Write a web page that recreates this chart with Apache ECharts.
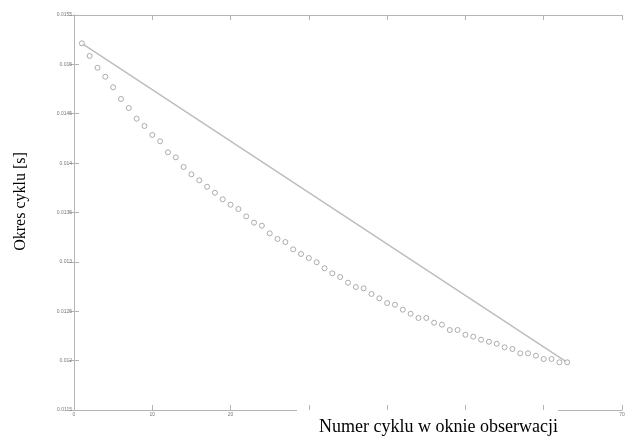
<!DOCTYPE html>
<html>
<head>
<meta charset="utf-8">
<script src="https://cdn.jsdelivr.net/npm/echarts@6/dist/echarts.min.js"></script>
<style>
  html, body { margin: 0; padding: 0; background: #fff; }
  #chart { width: 625px; height: 437px; }
</style>
</head>
<body>
<div id="chart"></div>
<script>
// numer cyklu 1..63 i zmierzony okres cyklu [s]
const cycleNo = [
  1, 2, 3, 4, 5, 6, 7, 8, 9, 10, 11, 12, 13, 14, 15, 16, 17, 18, 19, 20, 21,
  22, 23, 24, 25, 26, 27, 28, 29, 30, 31, 32, 33, 34, 35, 36, 37, 38, 39, 40, 41, 42,
  43, 44, 45, 46, 47, 48, 49, 50, 51, 52, 53, 54, 55, 56, 57, 58, 59, 60, 61, 62, 63
];
const period = [
  0.015213, 0.015085, 0.014966, 0.014875, 0.014768, 0.014649, 0.014558, 0.014450,
  0.014376, 0.014285, 0.014221, 0.014110, 0.014059, 0.013961, 0.013887, 0.013826,
  0.013761, 0.013700, 0.013634, 0.013579, 0.013535, 0.013461, 0.013397, 0.013366,
  0.013289, 0.013232, 0.013201, 0.013127, 0.013080, 0.013039, 0.012996, 0.012935,
  0.012884, 0.012847, 0.012789, 0.012745, 0.012732, 0.012675, 0.012631, 0.012583,
  0.012566, 0.012516, 0.012475, 0.012432, 0.012432, 0.012384, 0.012364, 0.012310,
  0.012310, 0.012262, 0.012242, 0.012212, 0.012191, 0.012171, 0.012135, 0.012118,
  0.012074, 0.012074, 0.012050, 0.012016, 0.012016, 0.011983, 0.011983
];
// prosta od pierwszego do ostatniego punktu
const lineX = [1, 63];
const lineY = [0.015213, 0.011983];

// etykiety osi X (30..60 zasloniete podpisem osi w oryginale)
const xTickLabels = ["0", "10", "20", "", "", "", "", "70"];

const axisGray = "#b4b4b4";
const labelGray = "#777";

const chart = echarts.init(document.getElementById("chart"), null, { renderer: "canvas" });

// wspolne ustawienia osi X
const xBase = {
  type: "value",
  min: 0,
  max: 70,
  interval: 10,
  splitLine: { show: false },
  axisLine: { lineStyle: { color: axisGray, width: 1 } },
  axisTick: { inside: true, length: 5, lineStyle: { color: axisGray } },
};

chart.setOption({
  animation: false,
  backgroundColor: "#fff",
  grid: { left: 74, right: 3, top: 15, bottom: 27, containLabel: false, outerBoundsMode: "none" },
  xAxis: [
    {
      ...xBase,
      position: "bottom",
      axisLabel: {
        fontSize: 5,
        color: labelGray,
        margin: 2,
        fontFamily: "Liberation Sans",
        formatter: (v) => xTickLabels[Math.round(v / 10)],
      },
    },
    {
      ...xBase,
      position: "top",
      axisLabel: { show: false },
    },
    {
      // tylko podpis osi (z bialym tlem jak w oryginale)
      ...xBase,
      position: "bottom",
      axisLine: { show: false },
      axisTick: { show: false },
      axisLabel: { show: false },
      name: "Numer cyklu w oknie obserwacji",
      nameLocation: "end",
      nameGap: -64,
      nameMoveOverlap: false,
      nameTextStyle: {
        fontFamily: "Liberation Serif",
        fontSize: 18,
        color: "#000",
        align: "right",
        verticalAlign: "top",
        backgroundColor: "#fff",
        padding: [8, 0, 9, 22],
      },
    },
  ],
  yAxis: [
    {
      type: "value",
      min: 0.0115,
      max: 0.0155,
      interval: 0.0005,
      position: "left",
      splitLine: { show: false },
      axisLine: { show: true, lineStyle: { color: axisGray, width: 1 } },
      axisTick: { show: true, inside: true, length: 5, lineStyle: { color: axisGray } },
      axisLabel: {
        fontSize: 5,
        color: labelGray,
        margin: 2,
        fontFamily: "Liberation Sans",
        formatter: (v) => String(+v.toFixed(4)),
      },
      name: "Okres cyklu [s]",
      nameLocation: "middle",
      nameGap: 45,
      nameTextStyle: {
        fontFamily: "Liberation Serif",
        fontSize: 16,
        color: "#000",
        padding: [0, 0, 0, 22],
      },
    },
    {
      type: "value",
      min: 0.0115,
      max: 0.0155,
      interval: 0.0005,
      position: "right",
      splitLine: { show: false },
      axisLine: { show: true, lineStyle: { color: axisGray, width: 1 } },
      axisTick: { show: true, inside: true, length: 5, lineStyle: { color: axisGray } },
      axisLabel: { show: false },
    },
  ],
  series: [
    {
      type: "line",
      data: lineX.map((x, i) => [x, lineY[i]]),
      showSymbol: false,
      lineStyle: { color: "#bdbdbd", width: 1.5 },
      z: 2,
    },
    {
      type: "scatter",
      data: cycleNo.map((x, i) => [x, period[i]]),
      symbol: "circle",
      symbolSize: 5,
      itemStyle: { color: "#fff", borderColor: "#999", borderWidth: 1 },
      z: 3,
    },
  ],
});
</script>
</body>
</html>
